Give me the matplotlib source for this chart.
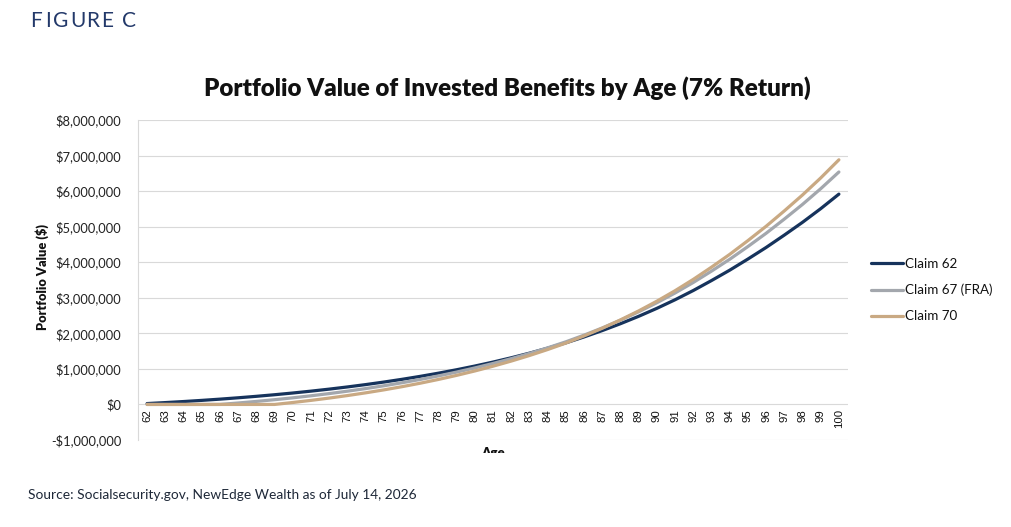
import matplotlib
matplotlib.use("Agg")
import matplotlib.pyplot as plt
from matplotlib.transforms import Bbox

# ---------------- data (values in $ thousands) ----------------
ages = list(range(62, 101))
claim_62 = [25.0, 52.3, 81.9, 114.2, 149.2, 187.3, 228.5, 273.3, 321.7, 374.1,
            430.7, 492.0, 558.1, 629.5, 706.6, 789.7, 879.3, 975.9, 1079.9, 1191.9,
            1312.5, 1442.2, 1581.8, 1732.0, 1898.1, 2077.3, 2270.4, 2478.5, 2702.7, 2944.0,
            3203.9, 3483.7, 3775.6, 4089.0, 4414.3, 4762.5, 5122.3, 5506.0, 5915.2]
claim_67 = [0, 0, 0, 0, 0, 40.8, 85.2, 133.6, 186.2, 243.4,
            305.4, 372.7, 445.7, 524.6, 610.1, 702.5, 802.4, 910.2, 1026.7, 1152.4,
            1287.9, 1434.0, 1591.5, 1761.2, 1948.7, 2151.2, 2369.7, 2605.6, 2860.0, 3134.3,
            3430.1, 3748.8, 4082.1, 4440.4, 4813.2, 5212.4, 5625.9, 6067.1, 6537.9]
claim_70 = [0, 0, 0, 0, 0, 0, 0, 0, 54.6, 114.2,
            179.0, 249.5, 326.1, 409.2, 499.4, 597.1, 702.9, 817.4, 941.2, 1075.0,
            1219.6, 1375.6, 1544.0, 1725.6, 1926.2, 2143.1, 2377.4, 2630.5, 2903.7, 3198.8,
            3517.1, 3860.4, 4220.1, 4607.0, 5010.5, 5442.6, 5891.0, 6369.7, 6880.6]
series_names = ["Claim 62", "Claim 67 (FRA)", "Claim 70"]
y_ticks = [-1_000_000, 0, 1_000_000, 2_000_000, 3_000_000, 4_000_000,
           5_000_000, 6_000_000, 7_000_000, 8_000_000]
y_tick_labels = ["-$1,000,000", "$0", "$1,000,000", "$2,000,000", "$3,000,000",
                 "$4,000,000", "$5,000,000", "$6,000,000", "$7,000,000", "$8,000,000"]
title = "Portfolio Value of Invested Benefits by Age (7% Return)"
figure_label = "FIGURE C"
source = "Source: Socialsecurity.gov, NewEdge Wealth as of July 14, 2026"

colors = ["#16335c", "#a3a7ad", "#c9a983"]
FONT = ["Lato", "DejaVu Sans"]

W, H = 1011, 527
fig = plt.figure(figsize=(W / 100, H / 100), dpi=100)
fig.patch.set_facecolor("white")

L, R, T, B = 138, 848, 120, 440
ax = fig.add_axes([L / W, 1 - B / H, (R - L) / W, (B - T) / H])

x = list(range(len(ages)))
for vals, name, c in zip([claim_62, claim_67, claim_70], series_names, colors):
    ax.plot(x, [v * 1000 for v in vals], color=c, lw=2.3, label=name,
            solid_capstyle="round", zorder=3)

ax.set_xlim(-0.5, len(ages) - 0.5)
ax.set_ylim(-1_000_000, 8_000_000)
ax.set_yticks(y_ticks)
ax.set_yticklabels(y_tick_labels, family=FONT, fontsize=9.3, color="#222222")
ax.tick_params(axis="y", length=0, pad=12)
ax.set_xticks([])
ax.grid(axis="y", color="#d9d9d9", lw=0.8, zorder=0)
for s in ["top", "right", "bottom"]:
    ax.spines[s].set_visible(False)
ax.spines["left"].set_color("#d9d9d9")
ax.spines["left"].set_linewidth(0.8)

# category labels along the $0 axis
for xi, a in zip(x, ages):
    ax.annotate(str(a), xy=(xi, 0), xytext=(0, -3.5), textcoords="offset points",
                rotation=90, ha="center", va="top", fontsize=8.2,
                family=["Liberation Sans", "DejaVu Sans"], color="#111111")

# y axis label
fig.text(42 / W, 1 - 277 / H, "Portfolio Value ($)", rotation=90, ha="center",
         va="center", family=FONT, fontweight="heavy", fontsize=9.2, color="#111111")

# x axis label (clipped by the chart frame in the original)
age_txt = fig.text(493 / W, 1 - 453 / H, "Age", ha="center", va="center",
                   family=FONT, fontweight="heavy", fontsize=9.5, color="#111111")
age_txt.set_clip_on(True)
age_txt.set_clip_box(Bbox.from_extents(0, H - 453, W, H))

# title
fig.text(507 / W, 1 - 88 / H, title, ha="center", va="center", family=FONT,
         fontweight="heavy", fontsize=17.4, color="#111111")

# figure label, letter-spaced
letter_x = [30, 45, 53, 70, 86, 101, 116, 122]
for ch, lx in zip(figure_label, letter_x):
    fig.text(lx / W, 1 - 21 / H, ch, ha="left", va="center", family=FONT,
             fontsize=15, color="#23396a")

# source
fig.text(28 / W, 1 - 495 / H, source, ha="left", va="center", family=FONT,
         fontsize=9.95, color="#1e2838")

# legend
leg = ax.legend(loc="center left", bbox_to_anchor=(866 / W, 1 - 290 / H),
                bbox_transform=fig.transFigure, frameon=False,
                prop={"family": FONT, "size": 9.6}, handlelength=2.4,
                handletextpad=0.1, labelspacing=1.05, borderaxespad=0)
for t in leg.get_texts():
    t.set_color("#111111")

fig.savefig("out.png", dpi=100, facecolor="white")
